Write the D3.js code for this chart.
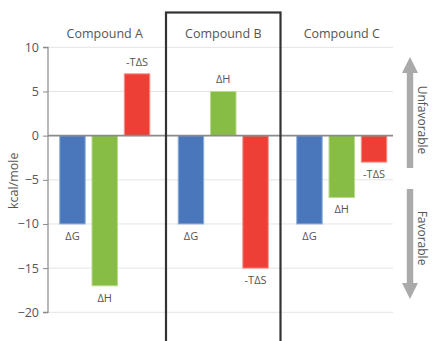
<!DOCTYPE html>
<html>
<head>
<meta charset="utf-8">
<script src="https://cdn.jsdelivr.net/npm/d3@7/dist/d3.min.js"></script>
<style>
  html, body { margin: 0; padding: 0; background: #fff; }
  svg { display: block; font-family: "Open Sans", "Noto Sans", sans-serif; }
</style>
</head>
<body>
<svg id="chart" width="432" height="341"></svg>
<script>
// Thermodynamic signature of three compounds (kcal/mole)
const compounds = ["Compound A", "Compound B", "Compound C"];
const terms = ["ΔG", "ΔH", "-TΔS"];
const dG = [-10, -10, -10];
const dH = [-17, 5, -7];
const minusTdS = [7, -15, -3];
const yTicks = [10, 5, 0, -5, -10, -15, -20];
const highlighted = "Compound B";

const colors = { "ΔG": "#4a77bb", "ΔH": "#87bd45", "-TΔS": "#ee3f36" };
const strokes = { "ΔG": "#8fb0de", "ΔH": "#b9da8f", "-TΔS": "#f59590" };

const rows = compounds.map((c, i) => ({
  compound: c,
  values: [
    { term: "ΔG", value: dG[i] },
    { term: "ΔH", value: dH[i] },
    { term: "-TΔS", value: minusTdS[i] }
  ]
}));

const svg = d3.select("#chart");
const plotLeft = 48, plotRight = 393;

const y = d3.scaleLinear().domain([-20, 10]).range([312.3, 47.3]);
const x0 = d3.scaleBand().domain(compounds).range([45.5, 401]).padding(0);
const x1 = d3.scaleBand().domain(terms).range([0, x0.bandwidth()])
  .paddingInner(0.21).paddingOuter(0.44);

// gridlines
svg.append("g").selectAll("line")
  .data(yTicks.filter(t => t !== 0))
  .join("line")
  .attr("x1", plotLeft).attr("x2", plotRight)
  .attr("y1", d => y(d)).attr("y2", d => y(d))
  .attr("stroke", "#e4e4e4").attr("stroke-width", 1);

// y axis
const yAxis = d3.axisLeft(y).tickValues(yTicks).tickSize(5).tickPadding(4)
  .tickFormat(d3.format("d"));
const gy = svg.append("g").attr("transform", `translate(${plotLeft},0)`).call(yAxis);
gy.select(".domain").attr("stroke", "#8a8a8a").attr("stroke-width", 1.2)
  .attr("d", `M-5,${y(10)}H0V${y(-20)}H-5`);
gy.selectAll(".tick line").attr("stroke", "#8a8a8a");
gy.selectAll(".tick text").attr("fill", "#555").style("font-size", "12.5px")
  .style("font-family", "'Open Sans', sans-serif");

// y axis title
svg.append("text")
  .attr("transform", `translate(18,${(y(0) + y(-10)) / 2 + 1}) rotate(-90)`)
  .attr("text-anchor", "middle")
  .attr("fill", "#555").style("font-size", "12.5px")
  .text("kcal/mole");

// bars
const groups = svg.append("g").selectAll("g")
  .data(rows).join("g")
  .attr("transform", d => `translate(${x0(d.compound)},0)`);

groups.selectAll("rect")
  .data(d => d.values).join("rect")
  .attr("x", d => x1(d.term))
  .attr("width", x1.bandwidth())
  .attr("y", d => y(Math.max(0, d.value)))
  .attr("height", d => Math.abs(y(d.value) - y(0)))
  .attr("fill", d => colors[d.term])
  .attr("stroke", d => strokes[d.term]).attr("stroke-width", 1);

// value term labels
groups.selectAll("text.term")
  .data(d => d.values).join("text")
  .attr("class", "term")
  .attr("x", d => x1(d.term) + x1.bandwidth() / 2)
  .attr("y", d => d.value >= 0 ? y(d.value) - 8 : y(d.value) + 16)
  .attr("text-anchor", "middle")
  .attr("fill", "#555").style("font-size", "11px")
  .text(d => d.term);

// zero line
svg.append("line")
  .attr("x1", plotLeft).attr("x2", plotRight)
  .attr("y1", y(0)).attr("y2", y(0))
  .attr("stroke", "#8a8a8a").attr("stroke-width", 1.6);

// compound titles
svg.append("g").selectAll("text")
  .data(compounds).join("text")
  .attr("x", d => x0(d) + x0.bandwidth() / 2)
  .attr("y", 38)
  .attr("text-anchor", "middle")
  .attr("fill", "#555").style("font-size", "12.5px")
  .text(d => d);

// frame around the highlighted compound
svg.append("rect")
  .attr("x", x0(highlighted) + 2)
  .attr("y", 12.5)
  .attr("width", x0.bandwidth() - 4)
  .attr("height", 340)
  .attr("fill", "none")
  .attr("stroke", "#333").attr("stroke-width", 2.2);

// direction arrows
const arrowX = 410;
function arrow(yTail, yTip) {
  const dir = yTip < yTail ? -1 : 1;
  const headLen = 16, headHalf = 8, shaftHalf = 3.2;
  const yBase = yTip - dir * headLen;
  svg.append("path")
    .attr("d", `M${arrowX - shaftHalf},${yTail} V${yBase} H${arrowX - headHalf} L${arrowX},${yTip}
                L${arrowX + headHalf},${yBase} H${arrowX + shaftHalf} V${yTail} Z`)
    .attr("fill", "#aaaaaa");
}
arrow(168, 57);
arrow(189, 299);

svg.append("text")
  .attr("transform", `translate(418,${120}) rotate(90)`)
  .attr("text-anchor", "middle")
  .attr("fill", "#555").style("font-size", "12px")
  .text("Unfavorable");
svg.append("text")
  .attr("transform", `translate(418,${238}) rotate(90)`)
  .attr("text-anchor", "middle")
  .attr("fill", "#555").style("font-size", "12px")
  .text("Favorable");
</script>
</body>
</html>
